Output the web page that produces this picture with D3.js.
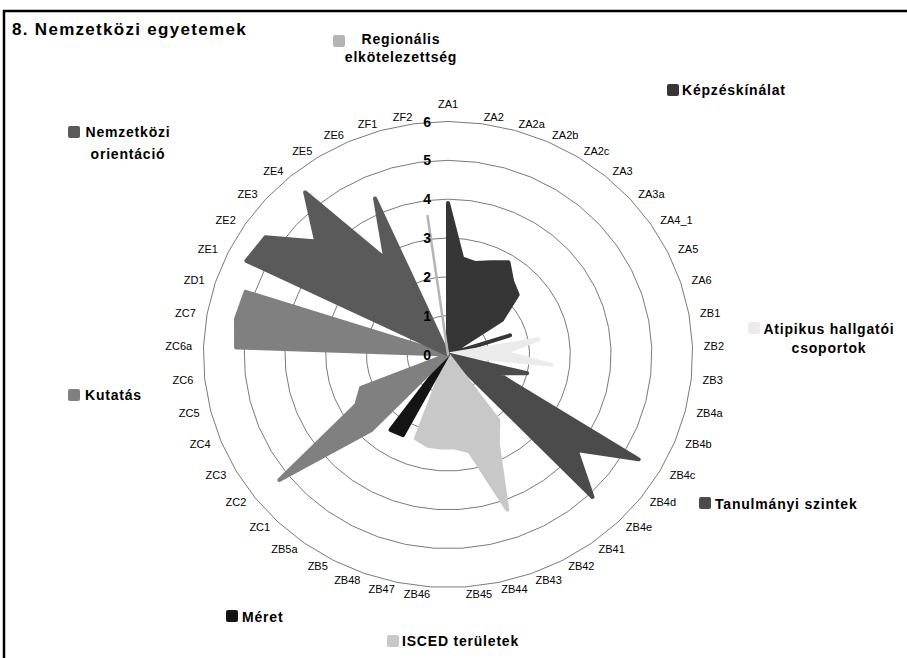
<!DOCTYPE html>
<html>
<head>
<meta charset="utf-8">
<script src="https://cdn.jsdelivr.net/npm/d3@7"></script>
<style>
  body { margin: 0; background: #fff; }
  svg { display: block; font-family: "Liberation Sans", Arial, sans-serif; }
</style>
</head>
<body>
<svg id="chart" width="907" height="658"></svg>
<script>
// categories, clockwise from the top
var categories = ["ZA1", "ZA2", "ZA2a", "ZA2b", "ZA2c", "ZA3", "ZA3a", "ZA4_1", "ZA5", "ZA6",
  "ZB1", "ZB2", "ZB3", "ZB4a", "ZB4b", "ZB4c", "ZB4d", "ZB4e",
  "ZB41", "ZB42", "ZB43", "ZB44", "ZB45", "ZB46", "ZB47", "ZB48", "ZB5", "ZB5a",
  "ZC1", "ZC2", "ZC3", "ZC4", "ZC5", "ZC6", "ZC6a", "ZC7", "ZD1",
  "ZE1", "ZE2", "ZE3", "ZE4", "ZE5", "ZE6", "ZF1", "ZF2"];

var ticks = [0, 1, 2, 3, 4, 5, 6];

// each series covers its own block of categories, in order
var kepzeskinalat = [3.9, 2.5, 2.45, 2.6, 2.8, 2.45, 2.3, 1.6, 0, 1.6];   // ZA1 .. ZA6
var atipikus      = [2.25, 1.4, 2.55];                                    // ZB1 .. ZB3
var tanulmanyi    = [2.0, 1.3, 5.4, 4.0, 5.1];                            // ZB4a .. ZB4e
var isced         = [2.1, 2.6, 4.25, 2.55, 2.4, 2.4, 2.4, 2.3];           // ZB41 .. ZB48
var meret         = [2.35, 2.4];                                          // ZB5, ZB5a
var kutatas       = [2.7, 5.25, 2.6, 2.3, 0, 0, 5.2, 5.28, 5.22];         // ZC1 .. ZD1
var nemzetkozi    = [5.5, 5.4, 4.35, 5.45, 2.9, 4.4];                     // ZE1 .. ZE6
var regionalis    = [0, 3.6];                                             // ZF1, ZF2

var seriesNames = ["Képzéskínálat", "Atipikus hallgatói csoportok", "Tanulmányi szintek",
  "ISCED területek", "Méret", "Kutatás", "Nemzetközi orientáció", "Regionális elkötelezettség"];
var seriesValues = [kepzeskinalat, atipikus, tanulmanyi, isced, meret, kutatas, nemzetkozi, regionalis];

// styles
var colors = ["#363636", "#ebebeb", "#4b4b4b", "#c8c8c8", "#141414", "#808080", "#5a5a5a", "#b4b4b4"];
var strokeW = [4, 4, 4, 4, 4, 4, 4, 2.5];

// legend placement (square x, y, text anchor, x, baselines)
var legendLayout = [
  {sx: 667, sy: 84,  anchor: "start",  tx: 682, ty: [95]},
  {sx: 748, sy: 322, anchor: "middle", tx: 829, ty: [334, 353]},
  {sx: 699, sy: 497, anchor: "start",  tx: 715, ty: [509]},
  {sx: 387, sy: 635, anchor: "start",  tx: 402, ty: [646]},
  {sx: 226, sy: 610, anchor: "start",  tx: 242, ty: [622]},
  {sx: 68,  sy: 389, anchor: "start",  tx: 85,  ty: [400]},
  {sx: 68,  sy: 126, anchor: "middle", tx: 128, ty: [137, 159]},
  {sx: 333, sy: 35,  anchor: "middle", tx: 401, ty: [44, 62]}
];
var legendLines = [["Képzéskínálat"], ["Atipikus hallgatói", "csoportok"], ["Tanulmányi szintek"],
  ["ISCED területek"], ["Méret"], ["Kutatás"], ["Nemzetközi", "orientáció"], ["Regionális", "elkötelezettség"]];

var svg = d3.select("#chart");
var cx = 448, cy = 354.5;
var stretch = 1.05;   // the picture is a little wider than tall

var r = d3.scaleLinear().domain([0, 6]).range([0, 233]);
var angle = d3.scaleLinear().domain([0, categories.length]).range([0, 2 * Math.PI]);

function pt(i, v) {
  var a = angle(i);
  return [cx + r(v) * Math.sin(a) * stretch, cy - r(v) * Math.cos(a)];
}

// full 45-value rows, zero outside each series' block
var offset = 0;
var rows = seriesValues.map(function (vals) {
  var start = offset;
  offset += vals.length;
  return categories.map(function (c, i) {
    return (i >= start && i < start + vals.length) ? vals[i - start] : 0;
  });
});

var line = d3.line().curve(d3.curveLinearClosed);

// frame
svg.append("rect")
  .attr("x", 4).attr("y", 11)
  .attr("width", 920).attr("height", 680)
  .attr("fill", "none").attr("stroke", "#000").attr("stroke-width", 2.5);

// title
svg.append("text")
  .attr("x", 12).attr("y", 35)
  .attr("font-size", 17).attr("font-weight", "bold")
  .attr("letter-spacing", 1.3)
  .text("8. Nemzetközi egyetemek");

// grid rings
svg.append("g").selectAll("path")
  .data(ticks.slice(1))
  .enter()
    .append("path")
      .attr("d", function (k) {
        return line(categories.map(function (c, i) { return pt(i, k); }));
      })
      .attr("fill", "none")
      .attr("stroke", "#7a7a7a")
      .attr("stroke-width", 1);

// series
svg.append("g").selectAll("path")
  .data(rows)
  .enter()
    .append("path")
      .attr("d", function (row) {
        return line(row.map(function (v, i) { return pt(i, v); }));
      })
      .attr("fill", function (d, i) { return colors[i]; })
      .attr("stroke", function (d, i) { return colors[i]; })
      .attr("stroke-width", function (d, i) { return strokeW[i]; })
      .attr("stroke-linejoin", "round");

// value axis labels
svg.append("g").selectAll("text")
  .data(ticks)
  .enter()
    .append("text")
      .attr("x", 431)
      .attr("y", function (k) { return cy - r(k); })
      .attr("text-anchor", "end")
      .attr("dominant-baseline", "central")
      .attr("font-size", 14)
      .attr("font-weight", "bold")
      .text(function (k) { return k; });

// category labels
svg.append("g").selectAll("text")
  .data(categories)
  .enter()
    .append("text")
      .attr("x", function (c, i) { return cx + 256 * Math.sin(angle(i)); })
      .attr("y", function (c, i) { return cy - 240 * Math.cos(angle(i)) - (i === 0 ? 11 : 0); })
      .attr("text-anchor", function (c, i) {
        var s = Math.sin(angle(i));
        return s > 0.01 ? "start" : (s < -0.01 ? "end" : "middle");
      })
      .attr("dominant-baseline", "central")
      .attr("font-size", 11)
      .text(function (c) { return c; });

// legend
var legend = svg.append("g").selectAll("g")
  .data(seriesNames)
  .enter()
    .append("g");

legend.append("rect")
  .attr("x", function (d, i) { return legendLayout[i].sx; })
  .attr("y", function (d, i) { return legendLayout[i].sy; })
  .attr("width", 12).attr("height", 12)
  .attr("rx", 2)
  .attr("fill", function (d, i) { return colors[i]; });

legend.each(function (d, i) {
  var lay = legendLayout[i];
  var g = d3.select(this);
  legendLines[i].forEach(function (txt, j) {
    g.append("text")
      .attr("x", lay.tx)
      .attr("y", lay.ty[j])
      .attr("text-anchor", lay.anchor)
      .attr("font-size", 14)
      .attr("font-weight", "bold")
      .attr("letter-spacing", 0.8)
      .text(txt);
  });
});
</script>
</body>
</html>
